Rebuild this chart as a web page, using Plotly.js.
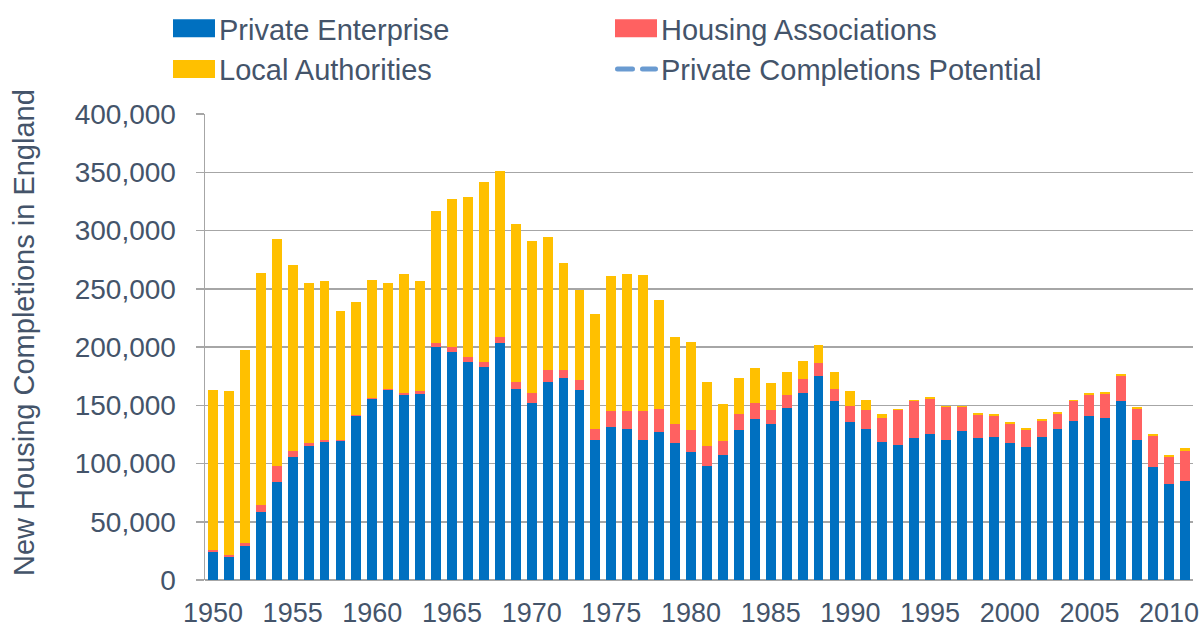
<!DOCTYPE html>
<html>
<head>
<meta charset="utf-8">
<script src="https://cdn.plot.ly/plotly-3.0.1.min.js"></script>
<style>html,body{margin:0;padding:0;background:#fff;}#chart{width:1203px;height:630px;}</style>
</head>
<body>
<div id="chart"></div>
<script>
const years = [1950,1951,1952,1953,1954,1955,1956,1957,1958,1959,
  1960,1961,1962,1963,1964,1965,1966,1967,1968,1969,
  1970,1971,1972,1973,1974,1975,1976,1977,1978,1979,
  1980,1981,1982,1983,1984,1985,1986,1987,1988,1989,
  1990,1991,1992,1993,1994,1995,1996,1997,1998,1999,
  2000,2001,2002,2003,2004,2005,2006,2007,2008,2009,
  2010,2011];
const privateEnterprise = [24300,20000,29400,58000,84300,105700,115100,118600,119400,140900,
  155100,163100,158600,159700,199700,195700,187100,182900,203100,164000,
  152300,170000,173400,163100,120300,131100,130000,120300,127100,117400,
  110000,98000,107700,128900,138300,134000,148000,160600,175400,153400,
  135400,130000,118600,116300,121700,124900,120300,128000,121700,122600,
  117400,114300,122600,130000,136600,140900,139400,153400,120300,97100,
  82300,85400];
const housingAssociations = [1700,1100,2000,6300,13700,5200,2300,1700,900,1100,
  1500,1200,2300,2300,3400,4300,4300,4200,5500,6000,
  8300,10000,6600,8300,9700,13800,14900,24600,19800,16900,
  18900,17100,11700,13700,14000,12000,10600,12000,10600,10600,
  14000,16000,20800,29700,31700,30500,28000,20300,20300,18500,
  16900,14800,14000,12900,16800,18000,20300,22000,26600,26600,
  23400,25500];
const localAuthorities = [136900,140900,165700,199400,194300,159100,137700,136000,110600,96300,
  100500,90800,101700,94300,113800,127100,137700,154900,142800,136000,
  130500,114300,92000,77400,98600,115700,117700,116500,93400,74300,
  75400,55200,31700,31100,29700,23400,20000,15700,16000,14600,
  13200,8300,3200,900,900,1500,1400,1400,1100,1200,
  1400,1500,1400,1400,1200,1400,1400,1500,1400,1400,
  1400,2500];
// The reference lists this series in its legend but draws no visible values for it.
const privateCompletionsPotential = [null];
const seriesNames = ['Private Enterprise','Housing Associations','Local Authorities','Private Completions Potential'];
const seriesColors = ['#0070C0','#FF6161','#FFC000','#6A9BD1'];
const yTickVals = [0,50000,100000,150000,200000,250000,300000,350000,400000];
const xTickVals = [1950,1955,1960,1965,1970,1975,1980,1985,1990,1995,2000,2005,2010];
const xBoundaries = years.concat([years[years.length-1]+1]).map(v => v - 0.5);
const yTitle = 'New Housing Completions in England';

const textColor = '#44546A';
const gridColor = '#A6A6A6';
const fontFam = '"Liberation Sans", Arial, sans-serif';

const barW = 0.62;
const barSeries = [privateEnterprise, housingAssociations, localAuthorities];
const traces = [];
barSeries.forEach((vals, i) => {
  traces.push({type:'bar', name:seriesNames[i], x:years, y:vals, width:barW,
    marker:{color:seriesColors[i]}, showlegend:false, legendgroup:'g'+i, hoverinfo:'skip'});
});
// legend entries for the bar series (wide swatches like the reference)
barSeries.forEach((vals, i) => {
  traces.push({type:'scatter', mode:'lines', name:seriesNames[i], x:[years[0]], y:[null],
    legendgroup:'g'+i, legendrank:i+1, line:{color:seriesColors[i], width:10}});
});
traces.push({type:'scatter', mode:'lines', name:seriesNames[3], legendrank:4,
  x:years.slice(0, privateCompletionsPotential.length), y:privateCompletionsPotential,
  line:{color:seriesColors[3], width:5, dash:'dash'}});

const layout = {
  width:1203, height:630,
  margin:{l:205, r:10, t:114, b:50},
  paper_bgcolor:'#fff', plot_bgcolor:'#fff',
  barmode:'stack',
  font:{family:fontFam, color:textColor, size:28},
  showlegend:true,
  legend:{orientation:'h', xref:'container', yref:'container', x:173/1203, y:1 - 3/630, xanchor:'left', yanchor:'top',
    entrywidth:391, entrywidthmode:'pixels', itemwidth:36, font:{size:29, color:textColor}, traceorder:'normal'},
  xaxis:{range:[1949.5, 2011.5], tickmode:'array', tickvals:xTickVals, ticktext:xTickVals.map(String),
    ticks:'', showgrid:false, zeroline:false, showline:false,
    tickfont:{size:27, color:textColor}, ticklabelstandoff:14},
  xaxis2:{overlaying:'x', anchor:'y', side:'bottom', range:[1949.5, 2011.5], tickmode:'array', tickvals:xBoundaries,
    showticklabels:false, ticks:'outside', ticklen:8, tickcolor:gridColor, tickwidth:1.5,
    showgrid:false, zeroline:false, showline:false},
  yaxis:{range:[0,400000], tickmode:'array', tickvals:yTickVals, ticktext:yTickVals.map(v=>v.toLocaleString('en-US')),
    showgrid:true, gridcolor:gridColor, gridwidth:1.5, zeroline:true, zerolinecolor:gridColor, zerolinewidth:1.5,
    showline:true, linecolor:gridColor, linewidth:1.5, ticks:'outside', ticklen:8, tickcolor:gridColor, tickwidth:1.5,
    tickfont:{size:28, color:textColor}, ticklabelstandoff:14},
  annotations:[{text:yTitle, textangle:-90, xref:'paper', yref:'paper', x:0, y:(580-333)/466,
    xanchor:'center', yanchor:'middle', xshift:-181, showarrow:false, font:{size:29, color:textColor}}]
};

Plotly.newPlot('chart', traces, layout, {displayModeBar:false, staticPlot:true}).then(gd => {
  // widen legend swatches to match the reference's rectangles / rounded dashes
  const paths = gd.querySelectorAll('.legend .traces .legendlines path');
  paths.forEach((p, idx) => {
    if (idx < 3) {
      p.setAttribute('d', 'M0,0h42');
      p.style.strokeWidth = '18px';
      p.style.strokeLinecap = 'butt';
    } else {
      p.setAttribute('d', 'M2.5,0h38');
      p.style.strokeWidth = '5px';
      p.style.strokeDasharray = '15px,10px';
      p.style.strokeLinecap = 'round';
    }
  });
});
</script>
</body>
</html>
